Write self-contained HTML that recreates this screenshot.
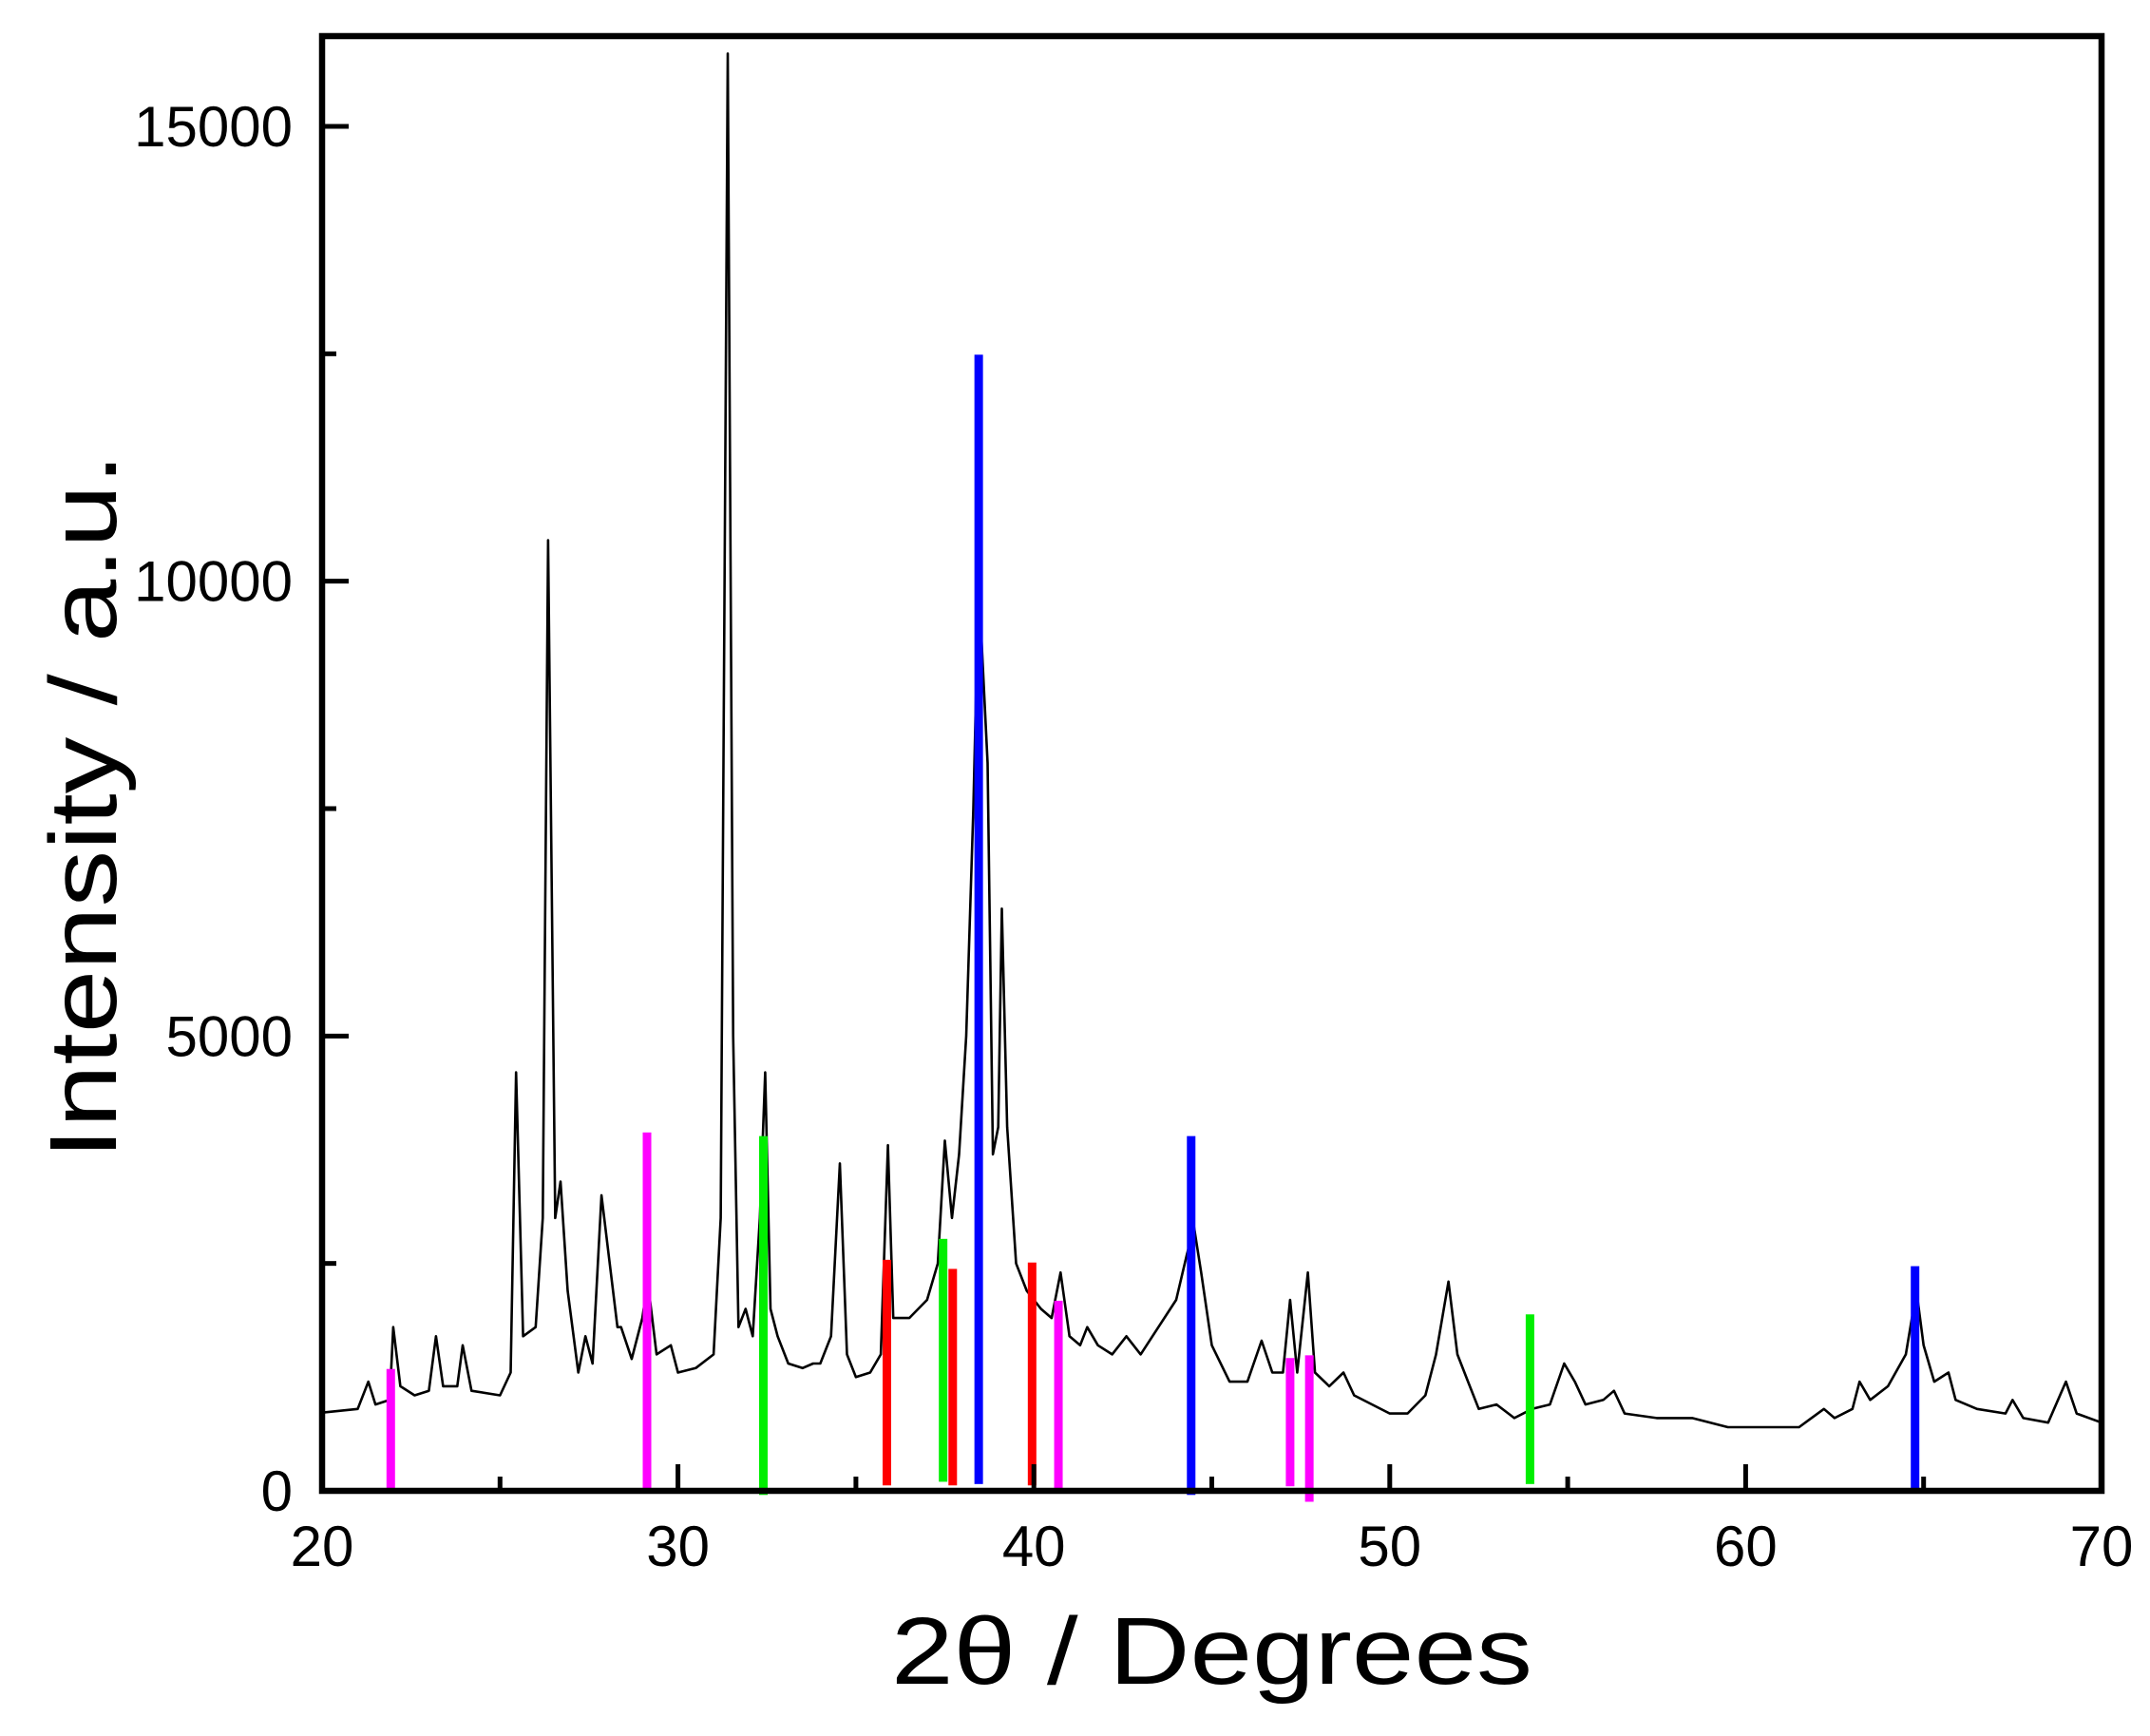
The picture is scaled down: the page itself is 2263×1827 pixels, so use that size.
<!DOCTYPE html>
<html><head><meta charset="utf-8"><style>html,body{margin:0;padding:0;background:#fff}svg{display:block}</style></head>
<body>
<svg id="chart" width="2263" height="1827" viewBox="0 0 2263 1827" xmlns="http://www.w3.org/2000/svg" font-family="Liberation Sans, Arial, sans-serif">
<g id="plot"></g>
</svg>
<script>
const xTicks=[20,30,40,50,60,70];
const xMinor=[25,35,45,55,65];
const yTicks=[0,5000,10000,15000];
const yMinor=[2500,7500,12500];
const patX=[20,21,21.3,21.5,21.9,22,22.2,22.6,23,23.2,23.4,23.8,23.95,24.2,25,25.3,25.45,25.65,26,26.2,26.35,26.55,26.7,26.9,27.2,27.4,27.6,27.85,28.05,28.3,28.4,28.7,29,29.15,29.4,29.8,30,30.5,31,31.2,31.4,31.55,31.7,31.9,32.1,32.3,32.45,32.6,32.8,33.1,33.5,33.8,34,34.3,34.55,34.75,35,35.4,35.7,35.9,36.05,36.5,37,37.3,37.5,37.7,37.9,38.1,38.3,38.45,38.7,38.85,39,39.1,39.25,39.5,39.8,40.2,40.5,40.75,41,41.3,41.5,41.8,42.2,42.6,43,43.5,44,44.3,44.5,44.7,45,45.5,46,46.4,46.7,47,47.2,47.4,47.7,47.9,48.3,48.7,49,50,50.5,51,51.3,51.65,51.9,52.2,52.5,53,53.5,54,54.5,54.9,55.2,55.5,56,56.3,56.6,57.5,58.5,59.5,60.5,61.5,62.2,62.5,63,63.2,63.5,64,64.5,64.8,65,65.3,65.7,65.9,66.5,67.3,67.5,67.8,68.5,69,69.3,70];
const patY=[860,900,1200,950,1000,1800,1150,1050,1100,1700,1150,1150,1600,1100,1050,1300,4600,1700,1800,3000,10450,3000,3400,2200,1300,1700,1400,3250,2600,1800,1800,1450,1900,2300,1500,1600,1300,1350,1500,3000,15800,5000,1800,2000,1700,3000,4600,2000,1700,1400,1350,1400,1400,1700,3600,1500,1250,1300,1500,3800,1900,1900,2100,2500,3850,3000,3700,5000,7500,10000,8000,3700,4000,6400,4000,2500,2200,2000,1900,2400,1700,1600,1800,1600,1500,1700,1500,1800,2100,2600,2900,2400,1600,1200,1200,1650,1300,1300,2100,1300,2400,1300,1150,1300,1050,850,850,1050,1500,2300,1500,1200,900,950,800,900,950,1400,1200,950,1000,1100,850,800,800,700,700,700,900,800,900,1200,1000,1150,1500,2200,1600,1200,1300,1000,900,850,1000,800,750,1200,850,750];
const barPos=[21.93,29.13,40.69,47.2,47.74,32.4,37.45,53.94,35.87,37.72,39.95,38.45,44.42,64.76];
const barTop=[1340,3940,2090,1460,1490,3900,2770,1940,2540,2440,2510,12490,3900,2470];
const barBottom=[0,30,30,50,-120,-45,100,75,60,60,60,75,-45,0];
const barPhase=["magenta","magenta","magenta","magenta","magenta","green","green","green","red","red","red","blue","blue","blue"];
const colors={magenta:"#ff00ff",green:"#00ee00",red:"#ff0000",blue:"#0000ff"};

const L=339,R=2212,T=38,B=1569;
const X=v=>L+(v-20)/(70-20)*(R-L);
const Y=v=>B-v/15000*(B-133);
const NS="http://www.w3.org/2000/svg";
const g=document.getElementById('plot');
function mk(t,a){const e=document.createElementNS(NS,t);for(const k in a)e.setAttribute(k,a[k]);g.appendChild(e);return e;}

let d='';patX.forEach((x,i)=>{d+=(i?'L':'M')+X(x).toFixed(1)+' '+Y(patY[i]).toFixed(1);});
const tr=mk('path',{d:d,fill:'none',stroke:'#000','stroke-width':2.6,'stroke-linejoin':'round'});



barPos.forEach((p,i)=>{
  const r=mk('rect',{x:X(p)-4.5,y:Y(barTop[i]),width:9,height:Y(barBottom[i])-Y(barTop[i]),fill:colors[barPhase[i]]});
  
  
});

const fr=mk('rect',{x:L,y:T,width:R-L,height:B-T,fill:'none',stroke:'#000','stroke-width':6.5});



xTicks.forEach(v=>{
  const l=mk('line',{x1:X(v),x2:X(v),y1:B,y2:B-28,stroke:'#000','stroke-width':5});
  
  
  const t=mk('text',{x:X(v),y:1648,'font-size':60,'text-anchor':'middle'});t.textContent=v;
  
  
});
xMinor.forEach(v=>{
  const l=mk('line',{x1:X(v),x2:X(v),y1:B,y2:B-15,stroke:'#000','stroke-width':5});
  
  
});
yTicks.forEach(v=>{
  const l=mk('line',{x1:L,x2:L+28,y1:Y(v),y2:Y(v),stroke:'#000','stroke-width':5});
  
  
  const t=mk('text',{x:308,y:Y(v)+21,'font-size':60,'text-anchor':'end'});t.textContent=v;
  
  
});
yMinor.forEach(v=>{
  const l=mk('line',{x1:L,x2:L+15,y1:Y(v),y2:Y(v),stroke:'#000','stroke-width':5});
  
  
});

const xt=mk('text',{x:938,y:1772,'font-size':100,textLength:675,lengthAdjust:'spacingAndGlyphs'});xt.textContent='2θ / Degrees';


const yt=mk('text',{x:0,y:0,'font-size':100,textLength:743,lengthAdjust:'spacingAndGlyphs',transform:'translate(122,1220) rotate(-90)'});yt.textContent='Intensity / a.u.';


</script>
</body></html>
